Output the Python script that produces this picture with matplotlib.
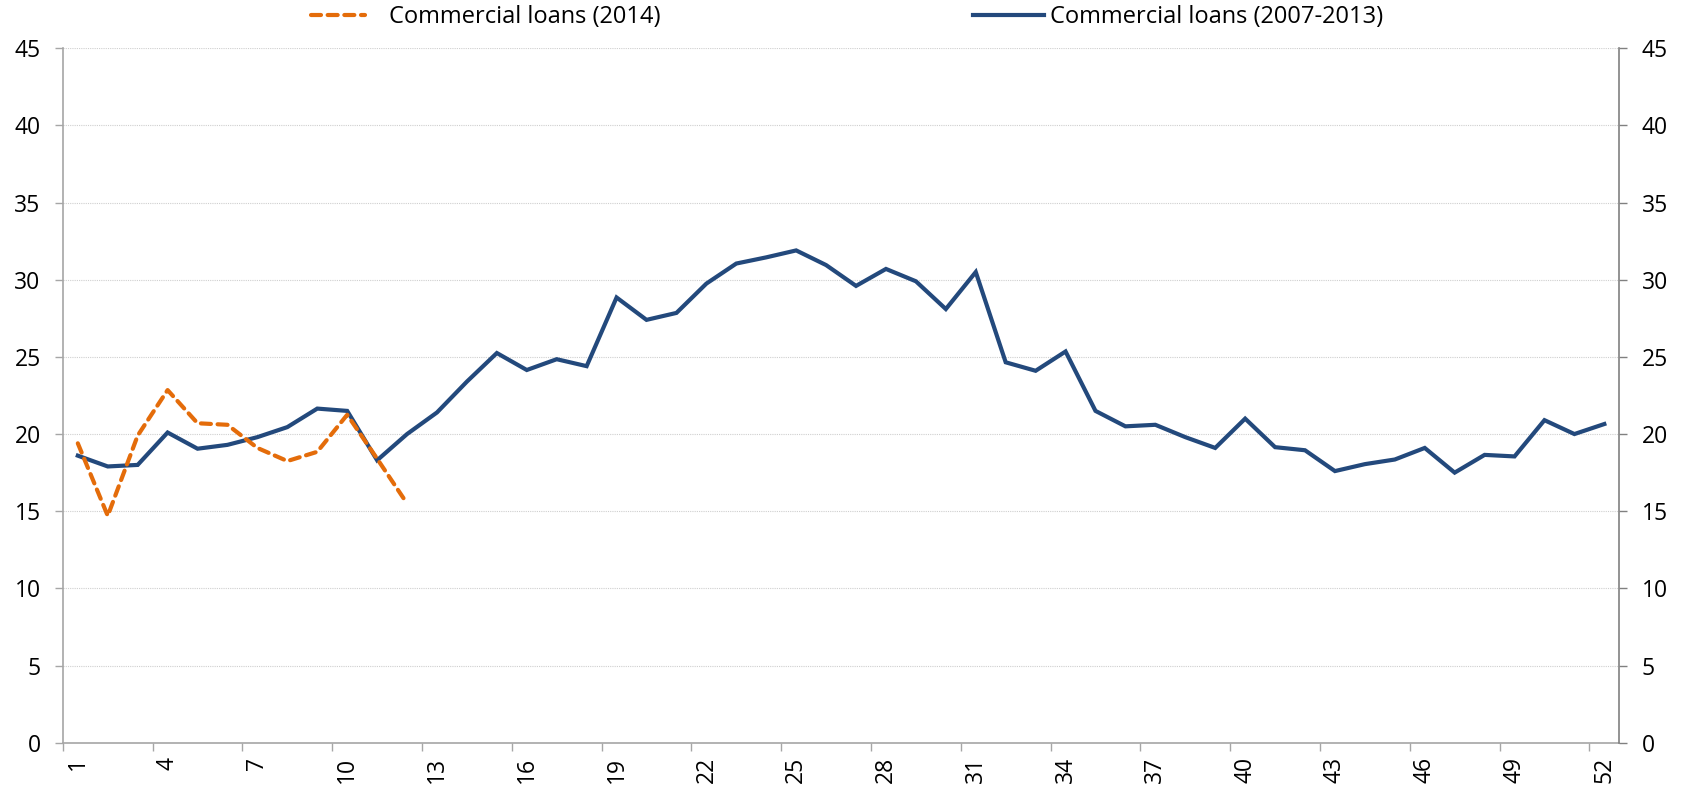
import numpy as np
import matplotlib.pyplot as plt

plt.rcParams['font.family'] = ['Open Sans', 'DejaVu Sans']

# week of the year
weeks = np.arange(1, 53)

# Commercial loans (2007-2013)
loans_0713 = [18.6, 17.9, 18.0, 20.1, 19.05, 19.3, 19.8, 20.45, 21.65, 21.5,
              18.3, 20.0, 21.4, 23.4, 25.25, 24.15, 24.85, 24.4, 28.85, 27.4,
              27.85, 29.75, 31.05, 31.45, 31.9, 30.95, 29.6, 30.7, 29.9, 28.1,
              30.5, 24.65, 24.1, 25.35, 21.5, 20.5, 20.6, 19.8, 19.1, 21.0,
              19.15, 18.95, 17.6, 18.05, 18.35, 19.1, 17.5, 18.65, 18.55, 20.9,
              20.0, 20.65]

# Commercial loans (2014)
weeks_2014 = np.arange(1, 13)
loans_2014 = [19.4, 14.7, 19.9, 22.85, 20.7, 20.6, 19.1, 18.25, 18.85, 21.25,
              18.4, 15.5]

y_ticks = [0, 5, 10, 15, 20, 25, 30, 35, 40, 45]

blue = '#23497C'
orange = '#E46C0A'

fig = plt.figure(figsize=(16.94, 7.90), dpi=100)
ax = fig.add_axes([0.0371, 0.0599, 0.9188, 0.879])

l1, = ax.plot(weeks_2014, loans_2014, color=orange, lw=3, dashes=(2.4, 1.6),
              dash_capstyle='round', label='Commercial loans (2014)', zorder=3)
l2, = ax.plot(weeks, loans_0713, color=blue, lw=3, solid_joinstyle='miter',
              label='Commercial loans (2007-2013)', zorder=2)

ax.set_xlim(0.5, 52.5)
ax.set_ylim(0, 45)
ax.set_yticks(y_ticks)
ax.grid(axis='y', linestyle=(0, (1, 1)), color='#cfcfcf', lw=0.8)
ax.set_axisbelow(True)

# labels at week centres, tick marks between weeks
ax.set_xticks(weeks[::3])
ax.set_xticklabels([str(w) for w in weeks[::3]], rotation=90)
ax.set_xticks(np.arange(0.5, 52, 3), minor=True)
ax.tick_params(axis='x', which='major', length=0, pad=10, labelsize=16.5)
ax.tick_params(axis='x', which='minor', length=6, width=1, color='#a6a6a6')
ax.tick_params(axis='y', length=6, width=1, color='#a6a6a6', pad=10, labelsize=16.5)

for s in ['top', 'right']:
    ax.spines[s].set_visible(False)
ax.spines['left'].set_color('#a6a6a6')
ax.spines['bottom'].set_color('#a6a6a6')
ax.spines['left'].set_linewidth(1.2)
ax.spines['bottom'].set_linewidth(1.2)

ax2 = ax.twinx()
ax2.set_ylim(0, 45)
ax2.set_yticks(y_ticks)
ax2.tick_params(axis='y', length=6, width=1, color='#808080', pad=10, labelsize=16.5)
for s in ['top', 'left', 'bottom']:
    ax2.spines[s].set_visible(False)
ax2.spines['right'].set_color('#808080')
ax2.spines['right'].set_linewidth(1.2)

fig.legend(handles=[l1], loc='center left', bbox_to_anchor=(311 / 1694, 1 - 17 / 790),
           frameon=False, fontsize=17, borderpad=0, borderaxespad=0,
           handlelength=2.3, handletextpad=1.0)
fig.legend(handles=[l2], loc='center left', bbox_to_anchor=(973 / 1694, 1 - 17 / 790),
           frameon=False, fontsize=17, borderpad=0, borderaxespad=0,
           handlelength=3.0, handletextpad=0.25)

fig.savefig('out.png', dpi=100)
